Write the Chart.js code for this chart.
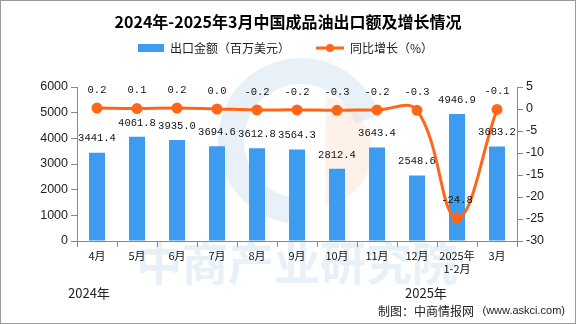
<!DOCTYPE html>
<html>
<head>
<meta charset="utf-8">
<script src="https://cdn.jsdelivr.net/npm/chart.js@4.4.1/dist/chart.umd.min.js"></script>
<style>
html,body{margin:0;padding:0;background:#fff;}
#wrap{width:576px;height:324px;position:relative;box-sizing:border-box;border:1px solid #999;}
canvas{display:block;}
</style>
</head>
<body>
<div id="wrap"><canvas id="grafico" width="574" height="322"></canvas></div>
<script>
const meses = ["4月","5月","6月","7月","8月","9月","10月","11月","12月",["2025年","1-2月"],"3月"];
const exportacion = [3441.4,4061.8,3935.0,3694.6,3612.8,3564.3,2812.4,3643.4,2548.6,4946.9,3683.2];
const crecimiento = [0.2,0.1,0.2,0.0,-0.2,-0.2,-0.3,-0.2,-0.3,-24.8,-0.1];
const ticksIzq = [0,1000,2000,3000,4000,5000,6000];
const ticksDer = [-30,-25,-20,-15,-10,-5,0,5];

const azul="#3d9cf0";
const naranja="#ff661a";
const fuenteNum="'Liberation Mono','DejaVu Sans Mono',monospace";
const fuenteCJK="'Noto Sans CJK SC','DejaVu Sans',sans-serif";

const extras={
id:"extras",
beforeDraw(chart){
const c=chart.ctx;
c.save();
c.fillStyle="#fff";
c.fillRect(0,0,chart.width,chart.height);
// marca de agua
c.fillStyle="rgba(190,215,232,0.35)";
c.font="bold 46px "+fuenteCJK;
c.textAlign="center";c.textBaseline="middle";
c.fillText("中商产业研究院",296,262);
c.strokeStyle="rgba(190,215,232,0.35)";
c.lineWidth=26;
c.beginPath();c.arc(300,140,70,Math.PI*0.55,Math.PI*1.9);c.stroke();
c.fillStyle="rgba(250,215,195,0.35)";
c.beginPath();c.arc(316,150,55,-Math.PI*0.45,Math.PI*0.45);c.fill();
c.restore();
},
afterDatasetsDraw(chart){
const c=chart.ctx;
c.save();
c.font="10.5px "+fuenteNum;
c.fillStyle="#111";
c.textAlign="center";c.textBaseline="middle";
chart.getDatasetMeta(1).data.forEach((b,i)=>{
c.fillText(exportacion[i].toFixed(1),b.x,b.y-14);
});
chart.getDatasetMeta(0).data.forEach((p,i)=>{
c.fillText(crecimiento[i].toFixed(1),p.x,p.y-18);
});
c.restore();
},
afterDraw(chart){
const c=chart.ctx;
c.save();
c.fillStyle="#000";
c.textBaseline="middle";
c.textAlign="center";
c.font="bold 16px "+fuenteCJK;
c.fillText("2024年-2025年3月中国成品油出口额及增长情况",287,21);
// leyenda
c.fillStyle=azul;
c.fillRect(137,43,26,8);
c.fillStyle="#222";
c.font="12px "+fuenteCJK;
c.textAlign="left";
c.fillText("出口金额（百万美元）",169,47);
c.strokeStyle=naranja;c.lineWidth=3;
c.beginPath();c.moveTo(315,47);c.lineTo(343,47);c.stroke();
c.fillStyle=naranja;
c.beginPath();c.arc(329,47,4,0,Math.PI*2);c.fill();
c.fillStyle="#222";
c.fillText("同比增长（%）",349,47);
// años
c.font="13px "+fuenteCJK;
c.fillText("2024年",67,292);
c.fillText("2025年",404,292);
c.font="12px "+fuenteCJK;
c.textAlign="right";
c.fillText("制图：中商情报网",473,310);
c.font="11px 'Liberation Sans',sans-serif";
c.fillText("(www.askci.com)",564,310);
c.restore();
}
};

new Chart(document.getElementById("grafico"),{
data:{
labels:meses,
datasets:[{
type:"line",
label:"同比增长（%）",
data:crecimiento,
yAxisID:"y1",
borderColor:naranja,
backgroundColor:naranja,
borderWidth:3,
pointRadius:4,
pointHoverRadius:4,
tension:0.4,
order:0
},{
type:"bar",
label:"出口金额（百万美元）",
data:exportacion,
yAxisID:"y",
backgroundColor:azul,
barPercentage:0.4,
categoryPercentage:1,
order:1
}]
},
options:{
responsive:false,
animation:false,
layout:{padding:{top:86,left:0,right:0,bottom:0}},
plugins:{legend:{display:false},title:{display:false},tooltip:{enabled:false}},
scales:{
x:{
offset:true,
grid:{display:true,drawOnChartArea:false,offset:true,tickLength:6,color:"#888"},
border:{color:"#888"},
ticks:{color:"#111",font:{family:fuenteCJK,size:11},maxRotation:0,autoSkip:false,padding:2},
afterFit(s){s.height=82;}
},
y:{
position:"left",
min:0,max:6000,
afterBuildTicks(s){s.ticks=ticksIzq.map(v=>({value:v}));},
grid:{display:true,drawOnChartArea:false,tickLength:6,color:"#888"},
border:{color:"#888"},
ticks:{color:"#222",font:{family:"'Liberation Sans',sans-serif",size:12.5},padding:3,callback:v=>String(v)},
afterFit(s){s.width=76;}
},
y1:{
position:"right",
min:-30,max:5,
afterBuildTicks(s){s.ticks=ticksDer.map(v=>({value:v}));},
grid:{display:true,drawOnChartArea:false,tickLength:6,color:"#888"},
border:{color:"#888"},
ticks:{color:"#222",font:{family:"'Liberation Sans',sans-serif",size:12.5},padding:3,callback:v=>String(v)},
afterFit(s){s.width=58;}
}
}
},
plugins:[extras]
});
</script>
</body>
</html>
